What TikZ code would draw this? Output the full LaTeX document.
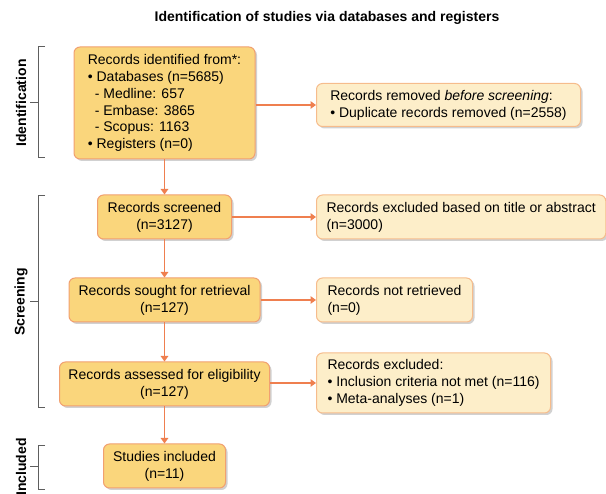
\documentclass[tikz,border=0pt]{standalone}
\usepackage{fontspec}
\setmainfont{Liberation Sans}
\usetikzlibrary{arrows.meta,shadows}

\definecolor{boxgold}{HTML}{FAD67C}
\definecolor{boxedge}{HTML}{F1A070}
\definecolor{sidefill}{HTML}{FDEEC9}
\definecolor{sideedge}{HTML}{F6BC8C}
\definecolor{flowcol}{HTML}{EF7F4F}
\definecolor{brackcol}{HTML}{5E5E5E}

\tikzset{
  mainbox/.style={draw=boxedge, fill=boxgold, rounded corners=6pt, line width=1pt,
    align=center, inner sep=0pt,
    drop shadow={shadow xshift=2pt, shadow yshift=-2pt, opacity=.18, fill=black}},
  sidebox/.style={draw=sideedge, fill=sidefill, rounded corners=6pt, line width=1pt,
    align=left, anchor=west, inner xsep=11pt, inner ysep=0pt,
    drop shadow={shadow xshift=2pt, shadow yshift=-2pt, opacity=.18, fill=black}},
  flow/.style={draw=flowcol, line width=1.9pt, -{Triangle[length=5.5pt,width=7.5pt]}},
  bracket/.style={draw=brackcol, line width=1pt},
  phase/.style={rotate=90, font=\fontsize{14}{16.8}\selectfont\bfseries}
}

\begin{document}
\begin{tikzpicture}[x=1pt, y=-1pt, font=\fontsize{14}{16.8}\selectfont]
  \useasboundingbox (0,0) rectangle (606,494);
  \node[font=\fontsize{14}{16.8}\selectfont\bfseries] (title) at (327,18) {Identification of studies via databases and registers};

  % phases
  \draw[bracket] (45,47) -- (38,47) -- (38,158) -- (45,158);
  \draw[bracket] (30,103) -- (38,103);
  \node[phase] (idlab) at (21,103) {Identification};
  \draw[bracket] (45,196) -- (38,196) -- (38,408) -- (45,408);
  \draw[bracket] (30,302) -- (38,302);
  \node[phase] (scrlab) at (21,302) {Screening};
  \draw[bracket] (45,446) -- (38,446) -- (38,490) -- (45,490);
  \draw[bracket] (30,467) -- (38,467);
  \node[phase] (inclab) at (21,467) {Included};

  % main column
  \node[mainbox, align=left, minimum width=181pt, minimum height=112pt] (records) at (164.5,103)
    {Records identified from*:\\
     • Databases (n=5685)\\
     \hspace*{0.5em}- Medline: 657\\
     \hspace*{0.5em}- Embase: 3865\\
     \hspace*{0.5em}- Scopus: 1163\\
     • Registers (n=0)};
  \node[mainbox, minimum width=134pt, minimum height=44pt] (screened) at (164.5,217)
    {Records screened\\(n=3127)};
  \node[mainbox, minimum width=191pt, minimum height=44pt] (sought) at (164.5,300)
    {Records sought for retrieval\\(n=127)};
  \node[mainbox, minimum width=210pt, minimum height=44pt] (assessed) at (164.5,384)
    {Records assessed for eligibility\\(n=127)};
  \node[mainbox, minimum width=122pt, minimum height=44pt] (included) at (164.5,466)
    {Studies included\\(n=11)};

  % side column
  \node[sidebox, minimum width=264pt, minimum height=43pt] (removed) at (316,105)
    {Records removed \textit{before screening}:\\• Duplicate records removed (n=2558)};
  \node[sidebox, inner xsep=10pt, minimum height=44pt] (excltitle) at (316,217)
    {Records excluded based on title or abstract\\(n=3000)};
  \node[sidebox, minimum width=156pt, minimum height=44pt] (notretr) at (316,300)
    {Records not retrieved\\(n=0)};
  \node[sidebox, minimum width=232pt, minimum height=60pt] (excluded) at (316,383)
    {Records excluded:\\• Inclusion criteria not met (n=116)\\• Meta-analyses (n=1)};

  % arrows
  \draw[flow] (records) -- (screened);
  \draw[flow] (screened) -- (sought);
  \draw[flow] (sought) -- (assessed);
  \draw[flow] (assessed) -- (included);
  \draw[flow] (records.east |- removed.west) -- (removed.west);
  \draw[flow] (screened) -- (excltitle);
  \draw[flow] (sought) -- (notretr);
  \draw[flow] (assessed.east |- excluded.west) -- (excluded.west);
\end{tikzpicture}
\end{document}
